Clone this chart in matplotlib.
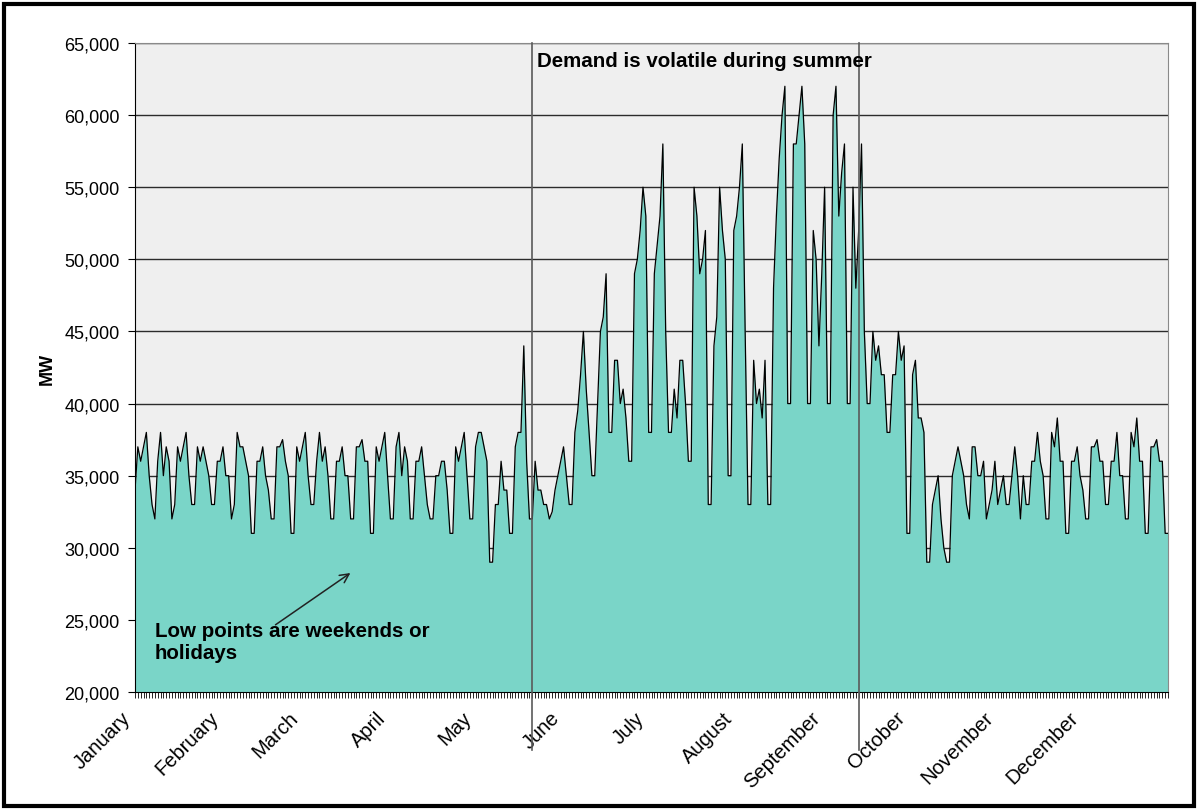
import numpy as np
import matplotlib.pyplot as plt
from matplotlib.ticker import FuncFormatter
from matplotlib.patches import Rectangle
from matplotlib.transforms import ScaledTranslation

plt.rcParams['font.family'] = ['Liberation Sans', 'DejaVu Sans']

# =========================
# Daily peak demand (MW)
# =========================
months = ["January", "February", "March", "April", "May", "June", "July",
          "August", "September", "October", "November", "December"]

jan = [34000, 37000, 36000, 37000, 38000, 35000, 33000, 32000, 36000, 38000,
       35000, 37000, 36000, 32000, 33000, 37000, 36000, 37000, 38000, 35000,
       33000, 33000, 37000, 36000, 37000, 36000, 35000, 33000, 33000, 36000,
       36000]
feb = [37000, 35000, 35000, 32000, 33000, 38000, 37000, 37000, 36000, 35000,
       31000, 31000, 36000, 36000, 37000, 35000, 34000, 32000, 32000, 37000,
       37000, 37500, 36000, 35000, 31000, 31000, 37000, 36000]
mar = [37000, 38000, 35000, 33000, 33000, 36000, 38000, 36000, 37000, 35000,
       32000, 32000, 36000, 36000, 37000, 35000, 35000, 32000, 32000, 37000,
       37000, 37500, 36000, 36000, 31000, 31000, 37000, 36000, 37000, 38000,
       35000]
apr = [32000, 32000, 37000, 38000, 35000, 37000, 36000, 32000, 32000, 36000,
       36000, 37000, 35000, 33000, 32000, 32000, 35000, 35000, 36000, 36000,
       34000, 31000, 31000, 37000, 36000, 37000, 38000, 35000, 32000, 32000]
may = [37000, 38000, 38000, 37000, 36000, 29000, 29000, 33000, 33000, 36000,
       34000, 34000, 31000, 31000, 37000, 38000, 38000, 44000, 36000, 32000,
       32000, 36000, 34000, 34000, 33000, 33000, 32000, 32500, 34000, 35000,
       36000]
jun = [37000, 35000, 33000, 33000, 38000, 39500, 42000, 45000, 41000, 38000,
       35000, 35000, 40000, 45000, 46000, 49000, 38000, 38000, 43000, 43000,
       40000, 41000, 39000, 36000, 36000, 49000, 50000, 52000, 55000, 53000]
jul = [38000, 38000, 49000, 51000, 53000, 58000, 45000, 38000, 38000, 41000,
       39000, 43000, 43000, 40000, 36000, 36000, 55000, 53000, 49000, 50000,
       52000, 33000, 33000, 44000, 46000, 55000, 52000, 50000, 35000, 35000,
       52000]
aug = [53000, 55000, 58000, 45000, 33000, 33000, 43000, 40000, 41000, 39000,
       43000, 33000, 33000, 48000, 53000, 57000, 60000, 62000, 40000, 40000,
       58000, 58000, 60000, 62000, 58000, 40000, 40000, 52000, 50000, 44000,
       49000]
sep = [55000, 40000, 40000, 60000, 62000, 53000, 56000, 58000, 40000, 40000,
       55000, 48000, 52000, 58000, 45000, 40000, 40000, 45000, 43000, 44000,
       42000, 42000, 38000, 38000, 42000, 42000, 45000, 43000, 44000, 31000]
oct_ = [31000, 42000, 43000, 39000, 39000, 38000, 29000, 29000, 33000, 34000,
        35000, 32000, 30000, 29000, 29000, 35000, 36000, 37000, 36000, 35000,
        33000, 32000, 37000, 37000, 35000, 35000, 36000, 32000, 33000, 34000,
        36000]
nov = [33000, 34000, 35000, 33000, 33000, 35000, 37000, 35000, 32000, 35000,
       33000, 33000, 36000, 36000, 38000, 36000, 35000, 32000, 32000, 38000,
       37000, 39000, 36000, 36000, 31000, 31000, 36000, 36000, 37000, 35000]
dec = [34000, 32000, 32000, 37000, 37000, 37500, 36000, 36000, 33000, 33000,
       36000, 36000, 38000, 35000, 35000, 32000, 32000, 38000, 37000, 39000,
       36000, 36000, 31000, 31000, 37000, 37000, 37500, 36000, 36000, 31000,
       31000]

by_month = [jan, feb, mar, apr, may, jun, jul, aug, sep, oct_, nov, dec]
demand = [v for m in by_month for v in m]
days = np.arange(len(demand))
month_starts = np.cumsum([0] + [len(m) for m in by_month[:-1]])

# summer window markers (day of year)
summer_bounds = [139.8, 255.1]

# =========================
# Plot
# =========================
fig = plt.figure(figsize=(11.98, 8.12), dpi=100)
ax = fig.add_axes([135 / 1198, 1 - 693 / 812, 1033 / 1198, 649 / 812])
ax.set_facecolor("#EFEFEF")

ax.fill_between(days, demand, 20000, color="#7AD5C8", lw=0, zorder=2)
ax.plot(days, demand, color="black", lw=0.9, zorder=3)

ax.set_xlim(0, len(demand) - 1)
ax.set_ylim(20000, 65000)
ax.set_yticks(np.arange(20000, 65001, 5000))
ax.yaxis.set_major_formatter(FuncFormatter(lambda v, p: f"{int(v):,}"))
ax.set_axisbelow(True)
ax.yaxis.grid(True, color="#2b2b2b", lw=1.0)

ax.set_xticks(month_starts)
ax.set_xticklabels(months, rotation=45, ha="right", rotation_mode="anchor")
ax.set_xticks(days, minor=True)
ax.tick_params(axis="x", which="both", length=4, width=0.6, pad=6,
               labelsize=14.5, colors="black")
ax.tick_params(axis="y", length=5, width=0.8, pad=6, labelsize=13)

# nudge month labels left like the original
shift = ScaledTranslation(-14 / 100, -2 / 100, fig.dpi_scale_trans)
for lab in ax.get_xticklabels():
    lab.set_transform(lab.get_transform() + shift)

for side in ["top", "right"]:
    ax.spines[side].set_color("#8a8a8a")
ax.spines["left"].set_color("black")
ax.spines["bottom"].set_color("black")

ax.set_ylabel("MW", fontsize=13, fontweight="bold")
ax.yaxis.set_label_coords(-0.077, 0.5)

for xb in summer_bounds:
    ax.plot([xb, xb], [16000, 65000], color="#5a5a5a", lw=1.2,
            clip_on=False, zorder=4)

ax.text(141.6, 63430, "Demand is volatile during summer", fontsize=14.8,
        fontweight="bold", va="baseline", zorder=5)
ax.text(7, 24950, "Low points are weekends or\nholidays", fontsize=14.8,
        fontweight="bold", va="top", linespacing=1.2, zorder=5)
ax.annotate("", xy=(76.7, 28360), xytext=(48.7, 24550),
            arrowprops=dict(arrowstyle="->", color="#222222", lw=1.1,
                            mutation_scale=16), zorder=5)

fig.patches.append(Rectangle((4 / 1198, 5 / 812), 1190 / 1198, 802 / 812,
                             transform=fig.transFigure, fill=False,
                             lw=3, edgecolor="black"))

plt.savefig("out.png", dpi=100)
plt.close()
